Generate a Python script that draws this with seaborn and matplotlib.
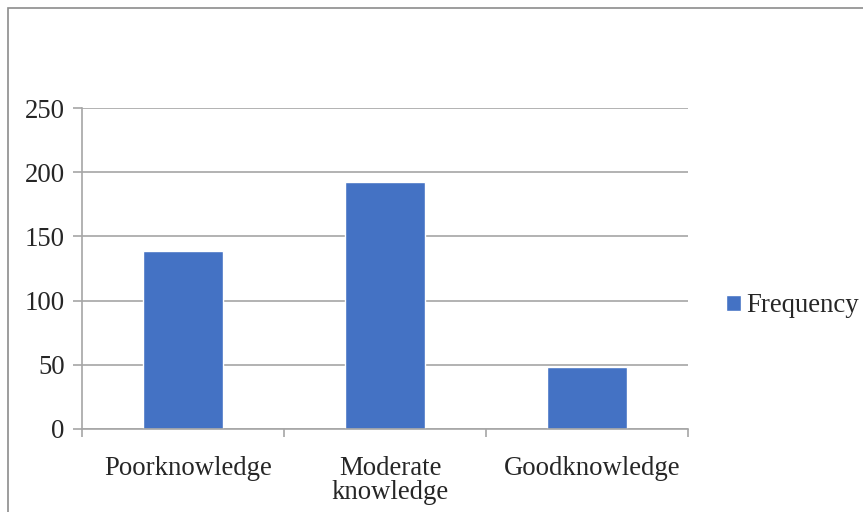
import matplotlib
matplotlib.use("Agg")
import matplotlib.pyplot as plt
from matplotlib.patches import Rectangle
from matplotlib.transforms import ScaledTranslation
import seaborn as sns
import pandas as pd

categories = ["Poorknowledge", "Moderate\nknowledge", "Goodknowledge"]
frequency = [139, 192, 48]
series_name = "Frequency"
y_ticks = [0, 50, 100, 150, 200, 250]

df = pd.DataFrame({"category": categories, "value": frequency, "series": series_name})

sns.set_style("white")
plt.rcParams["font.family"] = ["Liberation Serif", "DejaVu Serif"]

fig = plt.figure(figsize=(8.63, 5.12), dpi=100)
ax = fig.add_axes([82 / 863, 83 / 512, 606 / 863, 321 / 512])

sns.barplot(data=df, x="category", y="value", hue="series", palette=["#4472C4"],
            width=0.4, saturation=1, ax=ax, legend=True)

grey = "#A6A6A6"
fs = 19.3
ax.set_ylim(0, 250)
ax.set_xlim(-0.5, 2.5)
ax.set_yticks(y_ticks)
ax.set_yticklabels([str(t) for t in y_ticks], fontsize=fs)
ax.yaxis.grid(True, color=grey, linewidth=1.2)
ax.set_axisbelow(True)
ax.set_xlabel("")
ax.set_ylabel("")

for side in ["top", "right"]:
    ax.spines[side].set_visible(False)
for side in ["left", "bottom"]:
    ax.spines[side].set_color(grey)
    ax.spines[side].set_linewidth(1.2)

ax.tick_params(axis="y", which="major", direction="out", length=6.5, width=1.2,
               color=grey, pad=6, left=True)
ax.set_xticks([0, 1, 2])
ax.set_xticklabels(categories, fontsize=fs, linespacing=0.95)
ax.set_xticks([-0.5, 0.5, 1.5, 2.5], minor=True)
ax.tick_params(axis="x", which="major", length=0, pad=19.5)
ax.tick_params(axis="x", which="minor", direction="out", length=5.5, width=1.2,
               color=grey, bottom=True)

# nudge category labels slightly to the right
shift = ScaledTranslation(5 / 100, 0, fig.dpi_scale_trans)
for lbl in ax.get_xticklabels():
    lbl.set_transform(lbl.get_transform() + shift)

leg = ax.legend(loc="center left", bbox_to_anchor=(726 / 863, 1 - 306 / 512),
                bbox_transform=fig.transFigure, frameon=False, fontsize=fs,
                handlelength=0.55, handleheight=0.55, handletextpad=0.2,
                borderaxespad=0, borderpad=0)

# chart area frame
fig.add_artist(Rectangle((8 / 863, -0.1), 1.2, 1 - 8 / 512 + 0.1,
                         transform=fig.transFigure, fill=False,
                         edgecolor="#8C8C8C", linewidth=1.2))

fig.savefig("out.png", dpi=100)
